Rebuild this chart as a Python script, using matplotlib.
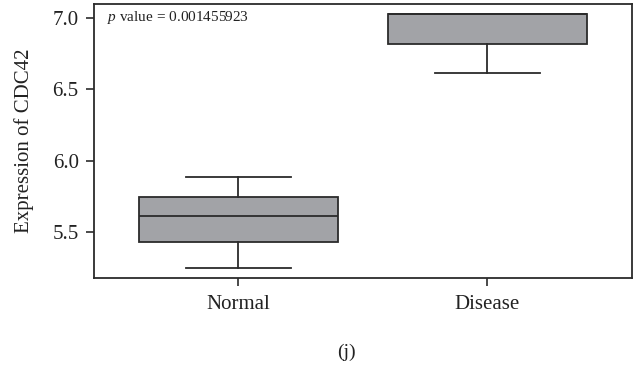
import matplotlib
matplotlib.use('Agg')
import matplotlib.pyplot as plt

# box statistics for each group
groups = ['Normal', 'Disease']
whisker_low = [5.249, 6.617]
q1 = [5.430, 6.820]
median = [5.612, 7.028]
q3 = [5.744, 7.028]
whisker_high = [5.884, 7.028]
p_value = '0.001455923'

plt.rcParams['font.family'] = ['Liberation Serif', 'DejaVu Serif']
plt.rcParams['mathtext.fontset'] = 'custom'
plt.rcParams['mathtext.it'] = 'Liberation Serif:italic'
plt.rcParams['mathtext.rm'] = 'Liberation Serif'
line_col = '#2b2b2b'
text_col = '#222222'

fig = plt.figure(figsize=(6.33, 3.72), dpi=100)
ax = fig.add_axes([0.1485, 0.253, 0.8495, 0.736])

stats = []
for i, g in enumerate(groups):
    stats.append({'label': g, 'whislo': whisker_low[i], 'q1': q1[i], 'med': median[i],
                  'q3': q3[i], 'whishi': whisker_high[i], 'fliers': []})

ax.bxp(stats, positions=[1, 2], widths=0.8, patch_artist=True, showfliers=False,
       boxprops=dict(facecolor='#a2a3a7', edgecolor=line_col, linewidth=1.3),
       medianprops=dict(color=line_col, linewidth=1.3),
       whiskerprops=dict(color=line_col, linewidth=1.3),
       capprops=dict(color=line_col, linewidth=1.3),
       capwidths=0.42)

ax.set_xlim(0.42, 2.58)
ax.set_ylim(5.178, 7.099)
ax.set_yticks([5.5, 6.0, 6.5, 7.0])
ax.set_yticklabels(['5.5', '6.0', '6.5', '7.0'])
ax.set_xticks([1, 2])
ax.set_xticklabels(groups)
ax.tick_params(axis='both', direction='out', length=6, width=1.2, color=line_col,
               labelsize=15, labelcolor=text_col, pad=5)
ax.tick_params(axis='x', pad=6)
for s in ax.spines.values():
    s.set_linewidth(1.3)
    s.set_color(line_col)

ax.set_ylabel('Expression of CDC42', fontsize=15, color=text_col, labelpad=13)
ax.text(0.025, 0.952, r'$\it{p}$' + ' value = ' + p_value, transform=ax.transAxes,
        fontsize=11, color=text_col, va='center', ha='left')

fig.text(0.548, 0.053, '(j)', fontsize=14, color=text_col, ha='center', va='center')

plt.savefig('out.png', dpi=100)
